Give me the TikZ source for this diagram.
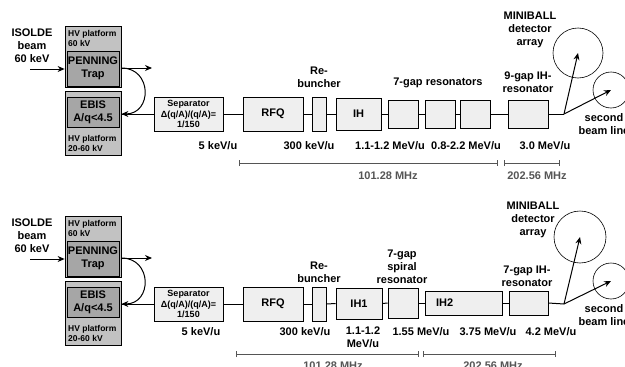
\documentclass[tikz,border=0pt]{standalone}
\usepackage{fontspec}
\setmainfont{Liberation Sans}
\usetikzlibrary{arrows.meta}

\definecolor{platgray}{HTML}{C2C2C2}
\definecolor{trapgray}{HTML}{A6A6A6}
\definecolor{elemgray}{HTML}{EFEFEF}
\definecolor{mhzgray}{HTML}{555555}

\begin{document}
\begin{tikzpicture}[x=1pt, y=-1pt,
every node/.style={font=\bfseries\fontsize{11}{13}\selectfont},
plat/.style={draw, fill=platgray, line width=0.8pt, inner sep=0pt},
trap/.style={draw, fill=trapgray, line width=0.8pt, inner sep=0pt, align=center},
elem/.style={draw, fill=elemgray, line width=0.6pt, inner sep=0pt, align=center},
plbl/.style={font=\bfseries\fontsize{8.5}{10.5}\selectfont, align=left, anchor=north west, inner sep=0pt},
ring/.style={draw, circle, line width=0.6pt, inner sep=0pt},
beam/.style={line width=1pt},
arr/.style={line width=1pt, -{Stealth[length=7pt, width=6pt]}},
mhz/.style={mhzgray, line width=0.8pt, {Bar[width=6pt]}-{Bar[width=6pt]}}
]
\useasboundingbox (0,0) rectangle (625,367);

% injection part, same in both rows
\foreach \r/\dy in {A/0, B/190} {
\node[align=center] (isolde\r) at (32,46+\dy) {ISOLDE\\beam\\60 keV};

\node[plat, minimum width=56, minimum height=61] (hvup\r) at (93,56.5+\dy) {};
\node[trap, minimum width=52, minimum height=35] (pen\r) at (93,68.5+\dy) {PENNING\\Trap};
\node[plbl] (hvupt\r) at (68,30+\dy) {HV platform\\60 kV};

\node[plat, minimum width=56, minimum height=64] (hvlo\r) at (93,123+\dy) {};
\node[trap, minimum width=52, minimum height=30] (ebis\r) at (93,112+\dy) {EBIS\\A/q<4.5};
\node[plbl] (hvlot\r) at (68,135+\dy) {HV platform\\20-60 kV};

\node[elem, font=\bfseries\fontsize{9}{10.5}\selectfont, minimum width=69, minimum height=34] (sep\r) at (188.5,114+\dy) {Separator\\Δ(q/A)/(q/A)=\\1/150};
\node[elem, minimum width=60, minimum height=34] (rfq\r) at (273,114+\dy) {RFQ};
\node[elem, minimum width=14, minimum height=34] (reb\r) at (319,114+\dy) {};

\coordinate (in\r) at (30,69+\dy);
\coordinate (out\r) at (152,68+\dy);
\draw[arr] (in\r) -- (in\r -| hvup\r.west);
\draw[arr] (hvup\r.east |- out\r) -- (out\r);
\draw[arr] (hvup\r.east |- out\r) .. controls +(31,0) and +(31,0) .. (hvlo\r.east |- sep\r.west);
\draw[beam] (sep\r.west) -- (sep\r.west -| hvlo\r.east);
\draw[beam] (sep\r.east) -- (rfq\r.west);
\draw[beam] (rfq\r.east) -- (reb\r.west);
}

% upper row
\node[align=center] (rebtA) at (319,77) {Re-\\buncher};
\node[elem, minimum width=45, minimum height=32] (ihA) at (358.5,114) {IH};
\foreach \i/\x in {1/403, 2/440, 3/475} {
\node[elem, minimum width=30, minimum height=28] (gapA\i) at (\x,114) {};
}
\node[elem, minimum width=40, minimum height=28] (ih9A) at (528,114) {};
\coordinate (splitA) at (564,114);
\node[ring, minimum size=50] (mbA) at (578,53) {};
\node[ring, minimum size=36] (secA) at (611,90) {};

\draw[beam] (rebA.east) -- (ihA.west);
\draw[beam] (ihA.east) -- (gapA1.west);
\draw[beam] (gapA1.east) -- (gapA2.west);
\draw[beam] (gapA2.east) -- (gapA3.west);
\draw[beam] (gapA3.east) -- (ih9A.west);
\draw[beam] (ih9A.east) -- (splitA);
\draw[arr] (splitA) -- (mbA.center);
\draw[arr] (splitA) -- (secA.center);

\node (gaptA) at (438,83) {7-gap resonators};
\node[align=center] (ih9tA) at (528,82.5) {9-gap IH-\\resonator};
\node[align=center] (mbtA) at (530,30) {MINIBALL\\detector\\array};
\node[align=center] (sectA) at (604,124.5) {second\\beam line};

\node (eA1) at (218,146) {5 keV/u};
\node (eA2) at (309,146) {300 keV/u};
\node (eA3) at (390,146) {1.1-1.2 MeV/u};
\node (eA4) at (466,146) {0.8-2.2 MeV/u};
\node (eA5) at (545,146) {3.0 MeV/u};

\draw[mhz] (239,163) -- (498,163);
\draw[mhz] (504,163) -- (560,163);
\node[mhzgray] (fA1) at (388,176) {101.28 MHz};
\node[mhzgray] (fA2) at (537,176) {202.56 MHz};

% lower row
\node[align=center] (rebtB) at (319,272) {Re-\\buncher};
\node[elem, minimum width=46, minimum height=31] (ih1B) at (359,303.5) {IH1};
\node[elem, minimum width=30, minimum height=30] (spirB) at (403,303) {};
\node[elem, text width=55, inner xsep=11, align=left, minimum height=24] (ih2B) at (463.5,303) {IH2};
\node[elem, minimum width=39, minimum height=24] (ih7B) at (528.5,303) {};
\coordinate (splitB) at (564,304);
\node[ring, minimum size=52] (mbB) at (580,237) {};
\node[ring, minimum size=36] (secB) at (611,281) {};

\draw[beam] (rebB.east) -- (ih1B.west);
\draw[beam] (ih1B.east) -- (spirB.west);
\draw[beam] (spirB.east) -- (ih2B.west);
\draw[beam] (ih2B.east) -- (ih7B.west);
\draw[beam] (ih7B.east) -- (splitB);
\draw[arr] (splitB) -- (mbB.center);
\draw[arr] (splitB) -- (secB.center);

\node[align=center] (spirtB) at (402,266.5) {7-gap\\spiral\\resonator};
\node[align=center] (ih7tB) at (527,276.5) {7-gap IH-\\resonator};
\node[align=center] (mbtB) at (533,220) {MINIBALL\\detector\\array};
\node[align=center] (sectB) at (604,315) {second\\beam line};

\node (eB1) at (201,332) {5 keV/u};
\node (eB2) at (305,332) {300 keV/u};
\node[align=center] (eB3) at (363,337) {1.1-1.2\\MeV/u};
\node (eB4) at (421,332) {1.55 MeV/u};
\node (eB5) at (488,332) {3.75 MeV/u};
\node (eB6) at (551,332) {4.2 MeV/u};

\draw[mhz] (236,354) -- (419,354);
\draw[mhz] (423,354) -- (556,354);
\node[mhzgray] (fB1) at (333,366) {101.28 MHz};
\node[mhzgray] (fB2) at (493,366) {202.56 MHz};

\end{tikzpicture}
\end{document}
